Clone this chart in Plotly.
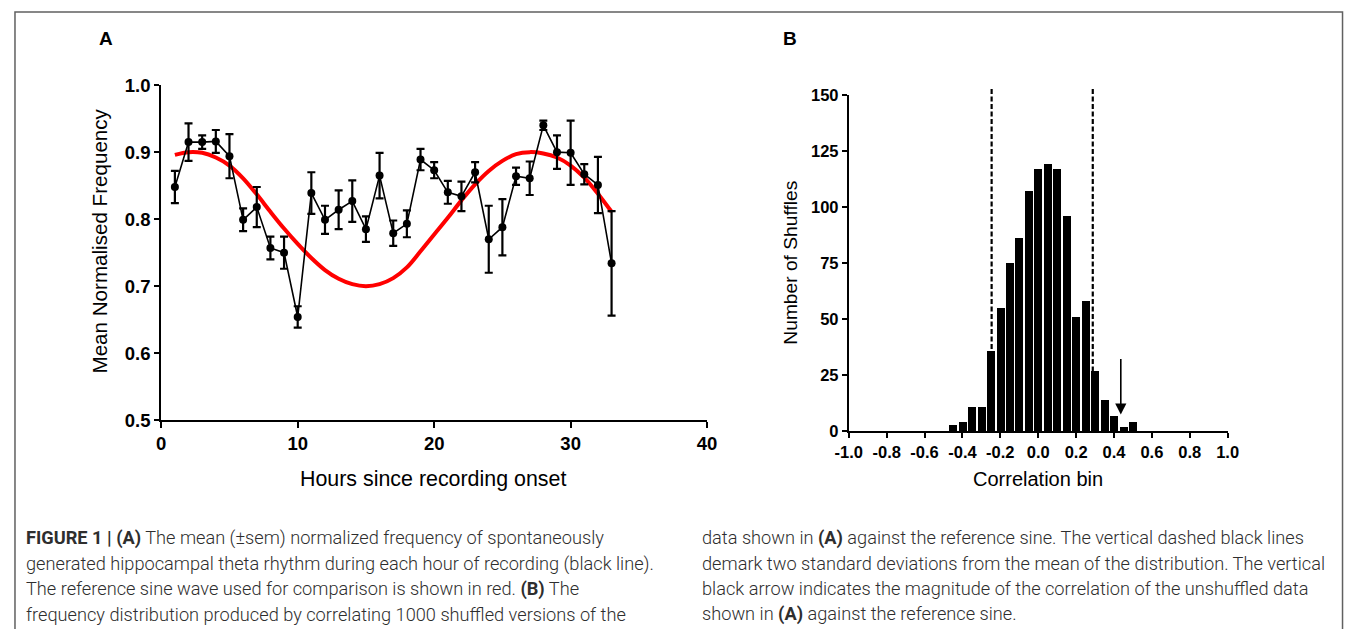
import plotly.graph_objects as go

# ---------------- Panel A data ----------------
hours = list(range(1, 34))
mean_freq = [0.848, 0.915, 0.915, 0.916, 0.894, 0.799, 0.818, 0.757, 0.750, 0.654,
             0.839, 0.799, 0.814, 0.827, 0.785, 0.865, 0.779, 0.793, 0.889, 0.873,
             0.840, 0.834, 0.870, 0.770, 0.788, 0.864, 0.861, 0.940, 0.900, 0.899,
             0.867, 0.851, 0.734]
sem = [0.024, 0.028, 0.010, 0.017, 0.033, 0.017, 0.030, 0.017, 0.024, 0.016,
       0.031, 0.021, 0.029, 0.031, 0.019, 0.034, 0.019, 0.020, 0.016, 0.012,
       0.017, 0.022, 0.015, 0.050, 0.042, 0.013, 0.025, 0.007, 0.025, 0.048,
       0.015, 0.042, 0.078]
sine_ref = [0.896, 0.900, 0.899, 0.892, 0.880, 0.861, 0.837, 0.811, 0.786, 0.763,
            0.742, 0.724, 0.711, 0.703, 0.700, 0.703, 0.712, 0.728, 0.752, 0.777,
            0.802, 0.828, 0.852, 0.872, 0.887, 0.897, 0.900, 0.898, 0.892, 0.880,
            0.862, 0.838, 0.811]
a_xticks = [0, 10, 20, 30, 40]
a_yticks = [0.5, 0.6, 0.7, 0.8, 0.9, 1.0]

# ---------------- Panel B data ----------------
corr_bins = [-0.45, -0.40, -0.35, -0.30, -0.25, -0.20, -0.15, -0.10, -0.05, 0.00,
             0.05, 0.10, 0.15, 0.20, 0.25, 0.30, 0.35, 0.40, 0.45, 0.50]
n_shuffles = [3, 4, 11, 11, 36, 55, 75, 86, 107, 117,
              119, 117, 96, 51, 58, 27, 14, 7, 2, 4]
sd_bounds = [-0.246, 0.288]
observed_corr = 0.436
b_xticks = [-1.0, -0.8, -0.6, -0.4, -0.2, 0.0, 0.2, 0.4, 0.6, 0.8, 1.0]
b_yticks = [0, 25, 50, 75, 100, 125, 150]

caption_left = [
    "<b>FIGURE 1 | (A)</b> The mean (±sem) normalized frequency of spontaneously",
    "generated hippocampal theta rhythm during each hour of recording (black line).",
    "The reference sine wave used for comparison is shown in red. <b>(B)</b> The",
    "frequency distribution produced by correlating 1000 shuffled versions of the",
]
caption_right = [
    "data shown in <b>(A)</b> against the reference sine. The vertical dashed black lines",
    "demark two standard deviations from the mean of the distribution. The vertical",
    "black arrow indicates the magnitude of the correlation of the unshuffled data",
    "shown in <b>(A)</b> against the reference sine.",
]

W, H = 1355, 629
# mapping from target picture pixels to page pixels (photo inset / scale)
OX, SX, OY, SY = 15.0, 0.98, 11.0, 0.965

def px(X):
    return min(max((X - OX) / SX, 0.0), W) / W

def py(Y):
    return 1 - min(max((Y - OY) / SY, 0.0), H) / H

AX_FONT = "Liberation Sans, Arial, sans-serif"

fig = go.Figure()

fig.add_trace(go.Scatter(
    x=hours, y=sine_ref, mode="lines", line=dict(color="#ff0000", width=4, shape="spline"),
    xaxis="x", yaxis="y", hoverinfo="skip", showlegend=False))
fig.add_trace(go.Scatter(
    x=hours, y=mean_freq, mode="lines+markers",
    line=dict(color="black", width=1.6),
    marker=dict(color="black", size=8),
    error_y=dict(type="data", array=sem, visible=True, color="black", thickness=2.2, width=4),
    xaxis="x", yaxis="y", showlegend=False))

fig.add_trace(go.Bar(
    x=corr_bins, y=n_shuffles, width=0.042, marker=dict(color="black", line=dict(width=0)),
    xaxis="x2", yaxis="y2", showlegend=False))

axis_common = dict(showgrid=False, zeroline=False, showline=True, linecolor="black",
                   linewidth=2, ticks="outside", tickcolor="black", tickwidth=2,
                   fixedrange=True)

fig.update_layout(
    width=W, height=H, margin=dict(l=0, r=0, t=0, b=0),
    paper_bgcolor="white", plot_bgcolor="rgba(0,0,0,0)",
    xaxis=dict(domain=[px(162), px(707)], range=[0, 40], tickvals=a_xticks,
               ticklen=6, anchor="y",
               tickfont=dict(family=AX_FONT, size=18.5, color="black", weight="bold"),
               **axis_common),
    yaxis=dict(domain=[py(419.5), py(85)], range=[0.5, 1.0], tickvals=a_yticks,
               tickformat=".1f", ticklen=5, anchor="x",
               tickfont=dict(family=AX_FONT, size=18.5, color="black", weight="bold"),
               **axis_common),
    xaxis2=dict(domain=[px(848.5), px(1226.7)], range=[-1.0, 1.0], tickvals=b_xticks,
                ticktext=[f"{v:.1f}" for v in b_xticks], ticklen=5,
                anchor="y2",
                tickfont=dict(family=AX_FONT, size=16.5, color="black", weight="bold"),
                **axis_common),
    yaxis2=dict(domain=[py(430.7), py(95)], range=[0, 150], tickvals=b_yticks,
                ticklen=5, anchor="x2",
                tickfont=dict(family=AX_FONT, size=16.5, color="black", weight="bold"),
                **axis_common),
    bargap=0,
)

shapes = []
# figure frame
shapes.append(dict(type="rect", xref="paper", yref="paper", x0=1 / W, x1=(W - 1.5) / W,
                   y0=-0.05, y1=1 - 1 / H, line=dict(color="#606060", width=1.5)))
# dashed SD lines
for b in sd_bounds:
    shapes.append(dict(type="line", xref="x2", yref="paper", x0=b, x1=b,
                       y0=py(430.7), y1=py(88), layer="above",
                       line=dict(color="black", width=2.2, dash="5px,2.5px")))
fig.update_layout(shapes=shapes)

ann = []
ann.append(dict(x=observed_corr, y=7.5, xref="x2", yref="y2", ax=observed_corr, ay=33,
                axref="x2", ayref="y2", showarrow=True, arrowhead=2, arrowsize=1.4,
                arrowwidth=1.6, arrowcolor="black", text=""))

def label(X, Y, text, size, angle=0, weight="normal"):
    return dict(x=px(X), y=py(Y), xref="paper", yref="paper", text=text,
                showarrow=False, xanchor="center", yanchor="middle", textangle=angle,
                font=dict(family=AX_FONT, size=size, color="black", weight=weight))

# panel letters
ann.append(label(107, 38, "A", 19, weight="bold"))
ann.append(label(790, 38, "B", 19, weight="bold"))
# axis titles
ann.append(label(433, 478, "Hours since recording onset", 21.4))
ann.append(label(100, 241, "Mean Normalised Frequency", 20.6, angle=-90))
ann.append(label(1037, 478, "Correlation bin", 20))
ann.append(label(790, 262, "Number of Shuffles", 19.2, angle=-90))
# caption
cap_font = dict(family="Roboto, Liberation Sans, sans-serif", size=18.2, color="#2e2e2e",
                weight=300)
line_ys = [537, 563, 588, 613]
for i, t in enumerate(caption_left):
    ann.append(dict(x=px(25), y=py(line_ys[i]), xref="paper", yref="paper", text=t,
                    showarrow=False, xanchor="left", yanchor="middle", font=cap_font))
for i, t in enumerate(caption_right):
    ann.append(dict(x=px(700), y=py(line_ys[i]), xref="paper", yref="paper", text=t,
                    showarrow=False, xanchor="left", yanchor="middle", font=cap_font))
fig.update_layout(annotations=ann)

fig.write_html(
    "out.html",
    config={"displayModeBar": False},
    post_script=("document.body.style.margin='0';"
                 "document.body.style.padding='0';"
                 "document.body.style.overflow='hidden';"
                 "document.documentElement.style.overflow='hidden';"),
)
